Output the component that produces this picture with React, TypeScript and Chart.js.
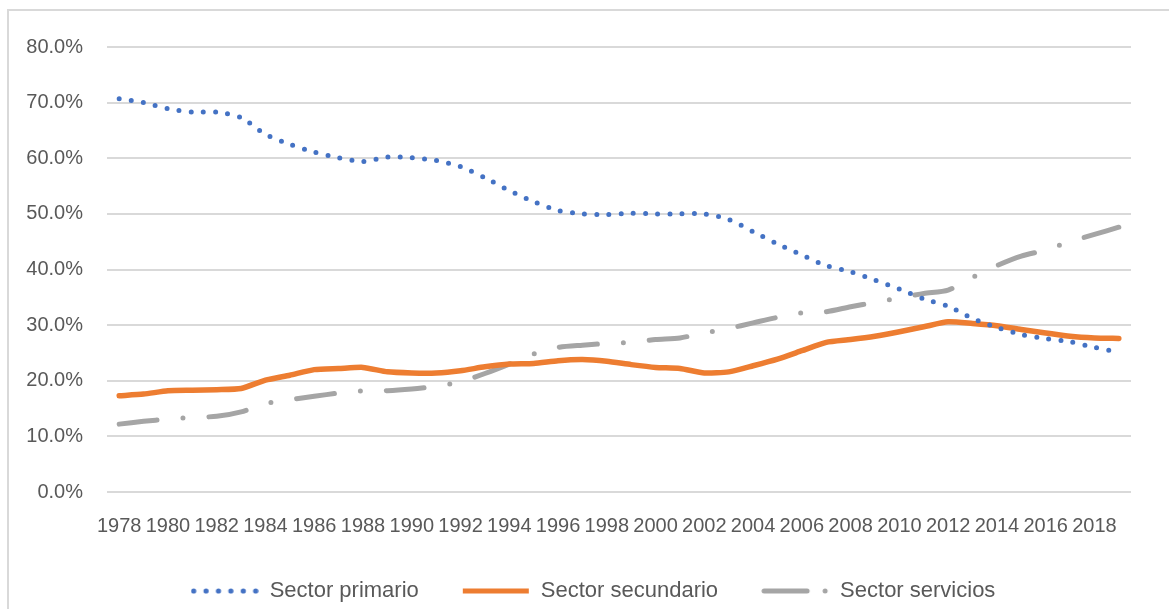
import React, { useEffect, useRef } from 'react';
import { Chart, registerables } from 'chart.js';

Chart.register(...registerables);

const years = [
  '1978', '1979', '1980', '1981', '1982', '1983', '1984', '1985', '1986', '1987',
  '1988', '1989', '1990', '1991', '1992', '1993', '1994', '1995', '1996', '1997',
  '1998', '1999', '2000', '2001', '2002', '2003', '2004', '2005', '2006', '2007',
  '2008', '2009', '2010', '2011', '2012', '2013', '2014', '2015', '2016', '2017',
  '2018', '2019',
];

const tickYears = [
  '1978', '1980', '1982', '1984', '1986', '1988', '1990', '1992', '1994', '1996',
  '1998', '2000', '2002', '2004', '2006', '2008', '2010', '2012', '2014', '2016', '2018',
];

const sectorPrimario = [
  70.7, 70.0, 68.9, 68.3, 68.3, 67.3, 64.3, 62.5, 61.1, 60.1,
  59.4, 60.2, 60.1, 59.6, 58.5, 56.5, 54.2, 52.2, 50.6, 50.0,
  49.9, 50.1, 50.0, 50.0, 50.0, 49.0, 46.8, 44.6, 42.6, 40.7,
  39.6, 38.1, 36.5, 34.7, 33.4, 31.2, 29.6, 28.3, 27.6, 27.0,
  26.0, 25.1,
];

const sectorSecundario = [
  17.3, 17.6, 18.2, 18.3, 18.4, 18.6, 20.1, 21.0, 22.0, 22.2,
  22.4, 21.6, 21.4, 21.4, 21.8, 22.5, 23.0, 23.1, 23.6, 23.8,
  23.5, 22.9, 22.4, 22.2, 21.4, 21.6, 22.7, 23.9, 25.4, 26.9,
  27.4, 28.0, 28.8, 29.7, 30.6, 30.3, 29.9, 29.2, 28.6, 28.0,
  27.7, 27.6,
];

const sectorServicios = [
  12.2, 12.7, 13.1, 13.4, 13.6, 14.4, 15.9, 16.6, 17.2, 17.8,
  18.2, 18.2, 18.5, 19.0, 19.8, 21.3, 23.0, 24.8, 26.0, 26.4,
  26.7, 26.9, 27.4, 27.7, 28.6, 29.4, 30.4, 31.4, 32.2, 32.4,
  33.3, 34.1, 34.9, 35.7, 36.3, 38.6, 40.7, 42.4, 43.5, 45.0,
  46.3, 47.6,
];

const seriesNames = ['Sector primario', 'Sector secundario', 'Sector servicios'];

const BLUE = '#4472C4';
const ORANGE = '#ED7D31';
const GRAY = '#A5A5A5';
const TEXT = '#595959';
const GRID = '#D9D9D9';
const FONT = "'Liberation Sans', Arial, sans-serif";

function makeSample(kind: number): HTMLCanvasElement {
  const c = document.createElement('canvas');
  c.width = 68;
  c.height = 10;
  const g = c.getContext('2d')!;
  if (kind === 0) {
    g.fillStyle = BLUE;
    for (let k = 0; k < 6; k++) {
      g.beginPath();
      g.arc(3 + k * 12.4, 5, 2.6, 0, Math.PI * 2);
      g.fill();
    }
  } else if (kind === 1) {
    g.strokeStyle = ORANGE;
    g.lineWidth = 5;
    g.lineCap = 'butt';
    g.beginPath();
    g.moveTo(1, 5);
    g.lineTo(67, 5);
    g.stroke();
  } else {
    g.strokeStyle = GRAY;
    g.fillStyle = GRAY;
    g.lineWidth = 5;
    g.lineCap = 'round';
    g.beginPath();
    g.moveTo(3, 5);
    g.lineTo(46, 5);
    g.stroke();
    g.beginPath();
    g.arc(64, 5, 2.5, 0, Math.PI * 2);
    g.fill();
  }
  return c;
}

const legendShift = {
  id: 'legendShift',
  afterLayout(chart: any) {
    if (chart.legend) {
      chart.legend.left += 46;
    }
  },
};

export default function App() {
  const canvasRef = useRef<HTMLCanvasElement | null>(null);

  useEffect(() => {
    document.documentElement.style.overflow = 'hidden';
    document.body.style.overflow = 'hidden';
    const canvas = canvasRef.current;
    if (!canvas) return;
    const samples = [makeSample(0), makeSample(1), makeSample(2)];

    const chart = new Chart(canvas, {
      type: 'line',
      data: {
        labels: years,
        datasets: [
          {
            label: seriesNames[0],
            data: sectorPrimario,
            borderColor: BLUE,
            backgroundColor: BLUE,
            borderWidth: 5,
            borderDash: [0, 12.2],
            borderCapStyle: 'round',
            pointRadius: 0,
            tension: 0.25,
          },
          {
            label: seriesNames[1],
            data: sectorSecundario,
            borderColor: ORANGE,
            backgroundColor: ORANGE,
            borderWidth: 5.5,
            borderCapStyle: 'round',
            borderJoinStyle: 'round',
            pointRadius: 0,
            tension: 0.2,
          },
          {
            label: seriesNames[2],
            data: sectorServicios,
            borderColor: GRAY,
            backgroundColor: GRAY,
            borderWidth: 5,
            borderDash: [38, 26, 0, 26],
            borderCapStyle: 'round',
            pointRadius: 0,
            tension: 0.25,
          },
        ],
      },
      options: {
        responsive: false,
        animation: false,
        layout: { padding: { left: 0, right: 38, top: 29, bottom: 0 } },
        plugins: {
          tooltip: { enabled: false },
          legend: {
            position: 'bottom',
            labels: {
              usePointStyle: true,
              pointStyleWidth: 68,
              padding: 43,
              color: TEXT,
              font: { family: FONT, size: 22 },
              generateLabels: (ch: any) => {
                const items = (Chart.defaults.plugins.legend.labels as any).generateLabels(ch);
                items.forEach((it: any, i: number) => {
                  it.pointStyle = samples[i];
                });
                return items;
              },
            },
          },
        },
        scales: {
          x: {
            offset: true,
            grid: { display: false, offset: true },
            border: { display: false },
            ticks: {
              autoSkip: false,
              maxRotation: 0,
              minRotation: 0,
              padding: 14,
              color: TEXT,
              font: { family: FONT, size: 20 },
              callback: (_v: any, i: number) => (tickYears.includes(years[i]) ? years[i] : ''),
            },
            afterFit: (s: any) => {
              s.height = 45;
            },
          },
          y: {
            min: 0,
            max: 80,
            ticks: {
              stepSize: 10,
              padding: 24,
              color: TEXT,
              font: { family: FONT, size: 20 },
              callback: (v: any) => Number(v).toFixed(1) + '%',
            },
            grid: { color: GRID, lineWidth: 2, drawTicks: false },
            border: { display: false },
            afterFit: (s: any) => {
              s.width = 98;
            },
          },
        },
      },
      plugins: [legendShift],
    } as any);

    return () => {
      chart.destroy();
    };
  }, []);

  return (
    <>
      <div
        style={{
          position: 'fixed',
          left: 7,
          top: 9,
          width: 1200,
          height: 700,
          borderLeft: `2px solid ${GRID}`,
          borderTop: `2px solid ${GRID}`,
          boxSizing: 'border-box',
        }}
      />
      <div style={{ position: 'fixed', left: 9, top: 11, width: 1160, height: 601 }}>
        <canvas ref={canvasRef} width={1160} height={601} style={{ width: 1160, height: 601, display: 'block' }} />
      </div>
    </>
  );
}
